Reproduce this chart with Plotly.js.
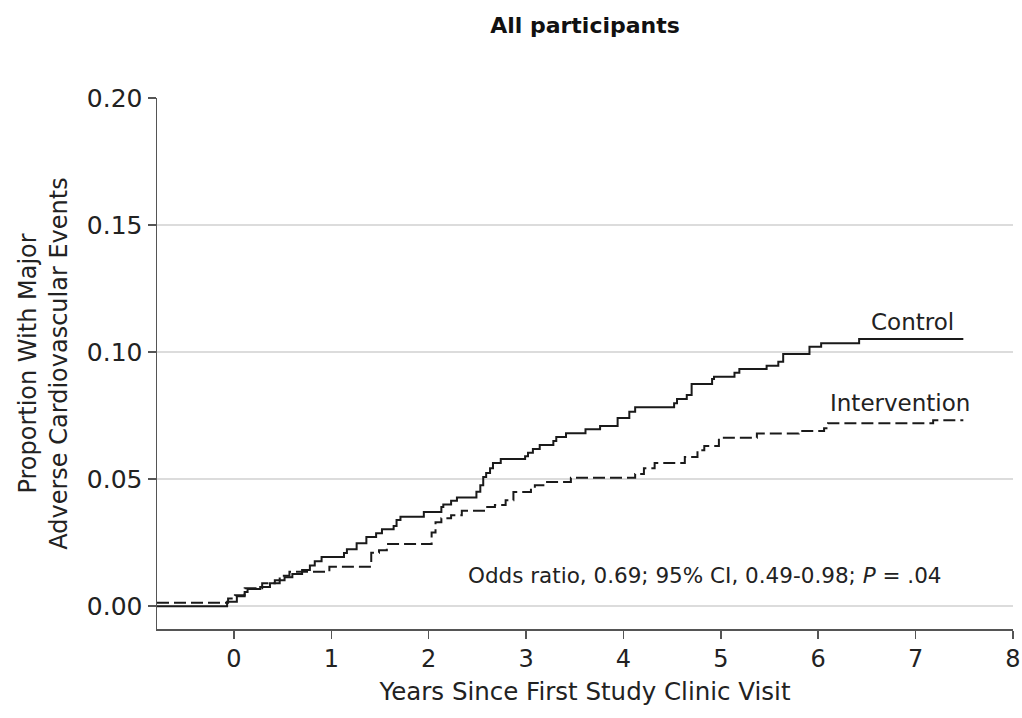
<!DOCTYPE html>
<html>
<head>
<meta charset="utf-8">
<script src="https://cdn.plot.ly/plotly-3.0.1.min.js"></script>
<style>
  html, body { margin: 0; padding: 0; background: #fff; }
  #chart { width: 1022px; height: 718px; }
</style>
</head>
<body>
<div id="chart"></div>
<script>
// Cumulative proportion with major adverse cardiovascular events (step curves)
const controlYears = [-0.79, -0.07, 0.03, 0.11, 0.14, 0.27, 0.37, 0.42, 0.52, 0.60, 0.70, 0.78, 0.83, 0.90,
  1.13, 1.16, 1.26, 1.36, 1.46, 1.52, 1.64, 1.67, 1.71, 1.95, 2.13, 2.15, 2.23, 2.29, 2.49, 2.53, 2.56, 2.59,
  2.63, 2.66, 2.74, 2.99, 3.02, 3.07, 3.14, 3.28, 3.31, 3.41, 3.61, 3.76, 3.94, 4.06, 4.12, 4.52, 4.55, 4.65,
  4.70, 4.91, 4.93, 5.14, 5.19, 5.47, 5.59, 5.64, 5.91, 6.03, 6.42, 7.49];
const controlProp = [0, 0.0017, 0.0039, 0.0056, 0.0067, 0.0075, 0.009, 0.0102, 0.0114, 0.0126, 0.0142, 0.016,
  0.0177, 0.0193, 0.0209, 0.0224, 0.0248, 0.0272, 0.0287, 0.0303, 0.0315, 0.0339, 0.0352, 0.0371, 0.039, 0.040,
  0.0415, 0.0428, 0.045, 0.0476, 0.0508, 0.0524, 0.0543, 0.0563, 0.0579, 0.059, 0.0604, 0.0618, 0.0634, 0.065,
  0.0666, 0.068, 0.0696, 0.0709, 0.074, 0.0765, 0.0783, 0.0799, 0.0815, 0.0831, 0.0874, 0.0894, 0.0903, 0.0919,
  0.0933, 0.0946, 0.0962, 0.0992, 0.1021, 0.1035, 0.1051, 0.1051];

const interventionYears = [-0.79, -0.06, 0.01, 0.11, 0.29, 0.47, 0.57, 0.98, 1.41, 1.49, 1.57, 2.03, 2.07, 2.13,
  2.23, 2.34, 2.58, 2.68, 2.79, 2.87, 3.05, 3.09, 3.19, 3.46, 4.12, 4.21, 4.32, 4.63, 4.76, 4.83, 4.98, 5.37,
  5.80, 6.06, 6.10, 7.18, 7.49];
const interventionProp = [0.0013, 0.003, 0.0043, 0.007, 0.009, 0.012, 0.0135, 0.0155, 0.021, 0.022, 0.0245,
  0.029, 0.033, 0.0346, 0.0358, 0.0375, 0.039, 0.0398, 0.0417, 0.0449, 0.0465, 0.0476, 0.0489, 0.0505, 0.052,
  0.0543, 0.0563, 0.0587, 0.0614, 0.063, 0.0663, 0.0679, 0.0689, 0.070, 0.072, 0.0732, 0.0732];

const xTicks = [0, 1, 2, 3, 4, 5, 6, 7, 8];
const yTicks = [0, 0.05, 0.10, 0.15, 0.20];
const yTickLabels = ['0.00', '0.05', '0.10', '0.15', '0.20'];

const FONT = '"DejaVu Sans", sans-serif';
const INK = '#1a1a1a';
const AXIS = '#555555';

const traces = [
  {
    name: 'Control', x: controlYears, y: controlProp, type: 'scatter', mode: 'lines',
    line: { shape: 'hv', color: INK, width: 2 }, hoverinfo: 'skip'
  },
  {
    name: 'Intervention', x: interventionYears, y: interventionProp, type: 'scatter', mode: 'lines',
    line: { shape: 'hv', color: INK, width: 2, dash: '12px,5px' }, hoverinfo: 'skip'
  }
];

const layout = {
  width: 1022, height: 718,
  margin: { l: 157, r: 9, t: 98, b: 89 },
  paper_bgcolor: '#ffffff', plot_bgcolor: '#ffffff',
  showlegend: false,
  font: { family: FONT, color: '#222', size: 22 },
  title: {
    text: '<b>All participants</b>',
    font: { family: FONT, size: 22, color: '#111' },
    x: 0.5, xref: 'paper', xanchor: 'center',
    y: 1 - 25 / 718, yref: 'container', yanchor: 'middle'
  },
  xaxis: {
    range: [-0.79, 8], tickvals: xTicks, ticktext: xTicks.map(String),
    showline: true, linecolor: AXIS, linewidth: 1.5, mirror: false,
    ticks: 'outside', ticklen: 8, tickwidth: 1.5, tickcolor: AXIS,
    showgrid: false, zeroline: false, ticklabeloverflow: 'allow',
    tickfont: { family: FONT, size: 24, color: '#222' },
    title: { text: 'Years Since First Study Clinic Visit', font: { family: FONT, size: 24.5, color: '#222' }, standoff: 10 },
    automargin: false
  },
  yaxis: {
    range: [-0.009, 0.2], tickvals: yTicks, ticktext: yTickLabels,
    showline: true, linecolor: AXIS, linewidth: 1.5,
    ticks: 'outside', ticklen: 8, tickwidth: 1.5, tickcolor: AXIS,
    showgrid: true, gridcolor: '#dcdcdc', gridwidth: 1.5, zeroline: false,
    tickfont: { family: FONT, size: 25, color: '#222' },
    title: { text: 'Proportion With Major<br>Adverse Cardiovascular Events', font: { family: FONT, size: 24, color: '#222' }, standoff: 12 },
    automargin: false
  },
  annotations: [
    { text: 'Control', x: 6.97, y: 0.1118, xref: 'x', yref: 'y', showarrow: false,
      xanchor: 'center', yanchor: 'middle', font: { family: FONT, size: 23, color: '#222' } },
    { text: 'Intervention', x: 6.84, y: 0.0799, xref: 'x', yref: 'y', showarrow: false,
      xanchor: 'center', yanchor: 'middle', font: { family: FONT, size: 23, color: '#222' } },
    { text: 'Odds ratio, 0.69; 95% CI, 0.49-0.98; <i>P</i> = .04', x: 4.84, y: 0.0122, xref: 'x', yref: 'y',
      showarrow: false, xanchor: 'center', yanchor: 'middle', font: { family: FONT, size: 21.5, color: '#222' } }
  ]
};

Plotly.newPlot('chart', traces, layout, { displayModeBar: false, staticPlot: true });
</script>
</body>
</html>
